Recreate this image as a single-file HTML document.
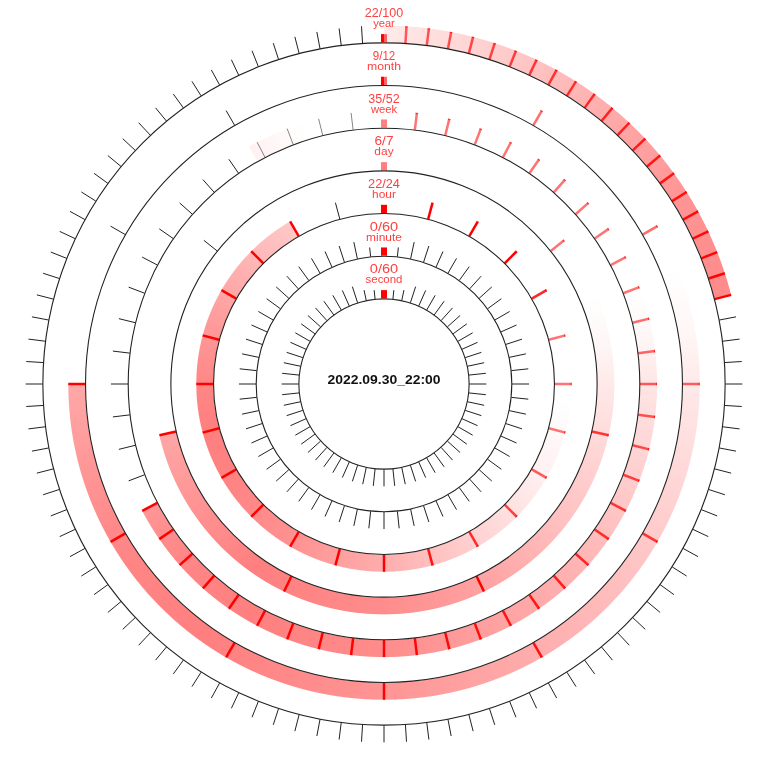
<!DOCTYPE html>
<html><head><meta charset="utf-8"><title>clock</title>
<style>html,body{margin:0;padding:0;background:#fff}#c{position:relative;width:768px;height:768px;overflow:hidden;background:#fff}.b{position:absolute;border-radius:50%}svg{position:absolute;left:0;top:0;display:block}text{font-family:"Liberation Sans",sans-serif}</style></head><body><div id="c">
<div class="b" style="left:24.60px;top:24.60px;width:718.80px;height:718.80px;background:conic-gradient(from 0deg at 50% 50%, rgba(255,0,0,0.080) 0.00deg, rgba(255,0,0,0.360) 45.00deg, rgba(255,0,0,0.425) 60.00deg, rgba(255,0,0,0.460) 75.60deg, rgba(255,0,0,0) 75.60deg, rgba(255,0,0,0) 360deg);-webkit-mask-image:radial-gradient(circle closest-side at 50% 50%, transparent 340.83px, #000 341.83px, #000 357.90px, transparent 358.90px);mask-image:radial-gradient(circle closest-side at 50% 50%, transparent 340.83px, #000 341.83px, #000 357.90px, transparent 358.90px)"></div>
<div class="b" style="left:67.27px;top:67.27px;width:633.47px;height:633.47px;background:conic-gradient(from 0deg at 50% 50%, rgba(255,0,0,0.000) 0.00deg, rgba(255,0,0,0.000) 68.00deg, rgba(255,0,0,0.030) 80.00deg, rgba(255,0,0,0.085) 90.00deg, rgba(255,0,0,0.270) 135.00deg, rgba(255,0,0,0.420) 180.00deg, rgba(255,0,0,0.500) 215.00deg, rgba(255,0,0,0.470) 240.00deg, rgba(255,0,0,0.340) 270.00deg, rgba(255,0,0,0) 270.00deg, rgba(255,0,0,0) 360deg);-webkit-mask-image:radial-gradient(circle closest-side at 50% 50%, transparent 298.17px, #000 299.17px, #000 315.23px, transparent 316.23px);mask-image:radial-gradient(circle closest-side at 50% 50%, transparent 298.17px, #000 299.17px, #000 315.23px, transparent 316.23px)"></div>
<div class="b" style="left:109.93px;top:109.93px;width:548.13px;height:548.13px;background:conic-gradient(from 0deg at 50% 50%, rgba(255,0,0,0.000) 0.00deg, rgba(255,0,0,0.000) 69.00deg, rgba(255,0,0,0.035) 80.00deg, rgba(255,0,0,0.100) 90.00deg, rgba(255,0,0,0.300) 135.00deg, rgba(255,0,0,0.450) 180.00deg, rgba(255,0,0,0.500) 210.00deg, rgba(255,0,0,0.470) 230.00deg, rgba(255,0,0,0.410) 242.31deg, rgba(255,0,0,0) 242.31deg, rgba(255,0,0,0.000) 330.40deg, rgba(255,0,0,0.055) 330.40deg, rgba(255,0,0,0.000) 343.00deg, rgba(255,0,0,0.000) 360.00deg);-webkit-mask-image:radial-gradient(circle closest-side at 50% 50%, transparent 255.50px, #000 256.50px, #000 272.57px, transparent 273.57px);mask-image:radial-gradient(circle closest-side at 50% 50%, transparent 255.50px, #000 256.50px, #000 272.57px, transparent 273.57px)"></div>
<div class="b" style="left:152.60px;top:152.60px;width:462.80px;height:462.80px;background:conic-gradient(from 0deg at 50% 50%, rgba(255,0,0,0.000) 0.00deg, rgba(255,0,0,0.000) 67.00deg, rgba(255,0,0,0.035) 80.00deg, rgba(255,0,0,0.085) 90.00deg, rgba(255,0,0,0.280) 135.00deg, rgba(255,0,0,0.350) 150.00deg, rgba(255,0,0,0.450) 180.00deg, rgba(255,0,0,0.500) 215.00deg, rgba(255,0,0,0.350) 257.14deg, rgba(255,0,0,0) 257.14deg, rgba(255,0,0,0) 360deg);-webkit-mask-image:radial-gradient(circle closest-side at 50% 50%, transparent 212.83px, #000 213.83px, #000 229.90px, transparent 230.90px);mask-image:radial-gradient(circle closest-side at 50% 50%, transparent 212.83px, #000 213.83px, #000 229.90px, transparent 230.90px)"></div>
<div class="b" style="left:195.27px;top:195.27px;width:377.47px;height:377.47px;background:conic-gradient(from 0deg at 50% 50%, rgba(255,0,0,0.000) 0.00deg, rgba(255,0,0,0.000) 95.00deg, rgba(255,0,0,0.060) 120.00deg, rgba(255,0,0,0.180) 150.00deg, rgba(255,0,0,0.320) 180.00deg, rgba(255,0,0,0.430) 210.00deg, rgba(255,0,0,0.490) 240.00deg, rgba(255,0,0,0.500) 255.00deg, rgba(255,0,0,0.470) 270.00deg, rgba(255,0,0,0.410) 285.00deg, rgba(255,0,0,0.350) 300.00deg, rgba(255,0,0,0.280) 315.00deg, rgba(255,0,0,0.220) 330.00deg, rgba(255,0,0,0) 330.00deg, rgba(255,0,0,0) 360deg);-webkit-mask-image:radial-gradient(circle closest-side at 50% 50%, transparent 170.17px, #000 171.17px, #000 187.23px, transparent 188.23px);mask-image:radial-gradient(circle closest-side at 50% 50%, transparent 170.17px, #000 171.17px, #000 187.23px, transparent 188.23px)"></div>
<svg width="768" height="768" viewBox="0 0 768 768">
<g id="year">
<line x1="405.43" y1="43.34" x2="406.50" y2="26.31" stroke="#f00" stroke-opacity="0.62" stroke-width="2.50"/>
<line x1="406.43" y1="27.50" x2="406.50" y2="26.31" stroke="#f00" stroke-opacity="0.6" stroke-width="2.50"/>
<line x1="426.78" y1="45.36" x2="428.92" y2="28.43" stroke="#f00" stroke-opacity="0.64" stroke-width="2.50"/>
<line x1="428.77" y1="29.62" x2="428.92" y2="28.43" stroke="#f00" stroke-opacity="0.6" stroke-width="2.50"/>
<line x1="447.96" y1="48.71" x2="451.16" y2="31.95" stroke="#f00" stroke-opacity="0.65" stroke-width="2.50"/>
<line x1="450.93" y1="33.13" x2="451.16" y2="31.95" stroke="#f00" stroke-opacity="0.6" stroke-width="2.50"/>
<line x1="468.89" y1="53.39" x2="473.13" y2="36.86" stroke="#f00" stroke-opacity="0.67" stroke-width="2.50"/>
<line x1="472.83" y1="38.02" x2="473.13" y2="36.86" stroke="#f00" stroke-opacity="0.6" stroke-width="2.50"/>
<line x1="489.48" y1="59.37" x2="494.75" y2="43.14" stroke="#f00" stroke-opacity="0.69" stroke-width="2.50"/>
<line x1="494.38" y1="44.28" x2="494.75" y2="43.14" stroke="#f00" stroke-opacity="0.6" stroke-width="2.50"/>
<line x1="509.65" y1="66.64" x2="515.94" y2="50.77" stroke="#f00" stroke-opacity="0.71" stroke-width="2.50"/>
<line x1="515.49" y1="51.88" x2="515.94" y2="50.77" stroke="#f00" stroke-opacity="0.6" stroke-width="2.50"/>
<line x1="529.33" y1="75.15" x2="536.60" y2="59.71" stroke="#f00" stroke-opacity="0.73" stroke-width="2.50"/>
<line x1="536.09" y1="60.80" x2="536.60" y2="59.71" stroke="#f00" stroke-opacity="0.6" stroke-width="2.50"/>
<line x1="548.44" y1="84.89" x2="556.66" y2="69.93" stroke="#f00" stroke-opacity="0.74" stroke-width="2.50"/>
<line x1="556.08" y1="70.98" x2="556.66" y2="69.93" stroke="#f00" stroke-opacity="0.6" stroke-width="2.50"/>
<line x1="566.90" y1="95.80" x2="576.04" y2="81.39" stroke="#f00" stroke-opacity="0.76" stroke-width="2.50"/>
<line x1="575.40" y1="82.41" x2="576.04" y2="81.39" stroke="#f00" stroke-opacity="0.6" stroke-width="2.50"/>
<line x1="584.63" y1="107.86" x2="594.66" y2="94.05" stroke="#f00" stroke-opacity="0.78" stroke-width="2.50"/>
<line x1="593.96" y1="95.02" x2="594.66" y2="94.05" stroke="#f00" stroke-opacity="0.6" stroke-width="2.50"/>
<line x1="601.57" y1="121.00" x2="612.45" y2="107.85" stroke="#f00" stroke-opacity="0.80" stroke-width="2.50"/>
<line x1="611.69" y1="108.77" x2="612.45" y2="107.85" stroke="#f00" stroke-opacity="0.6" stroke-width="2.50"/>
<line x1="617.66" y1="135.18" x2="629.34" y2="122.74" stroke="#f00" stroke-opacity="0.82" stroke-width="2.50"/>
<line x1="628.52" y1="123.61" x2="629.34" y2="122.74" stroke="#f00" stroke-opacity="0.6" stroke-width="2.50"/>
<line x1="632.82" y1="150.34" x2="645.26" y2="138.66" stroke="#f00" stroke-opacity="0.84" stroke-width="2.50"/>
<line x1="644.39" y1="139.48" x2="645.26" y2="138.66" stroke="#f00" stroke-opacity="0.6" stroke-width="2.50"/>
<line x1="647.00" y1="166.43" x2="660.15" y2="155.55" stroke="#f00" stroke-opacity="0.86" stroke-width="2.50"/>
<line x1="659.23" y1="156.31" x2="660.15" y2="155.55" stroke="#f00" stroke-opacity="0.6" stroke-width="2.50"/>
<line x1="660.14" y1="183.37" x2="673.95" y2="173.34" stroke="#f00" stroke-opacity="0.88" stroke-width="2.50"/>
<line x1="672.98" y1="174.04" x2="673.95" y2="173.34" stroke="#f00" stroke-opacity="0.6" stroke-width="2.50"/>
<line x1="672.20" y1="201.10" x2="686.61" y2="191.96" stroke="#f00" stroke-opacity="0.90" stroke-width="2.50"/>
<line x1="685.59" y1="192.60" x2="686.61" y2="191.96" stroke="#f00" stroke-opacity="0.6" stroke-width="2.50"/>
<line x1="683.11" y1="219.56" x2="698.07" y2="211.34" stroke="#f00" stroke-opacity="0.92" stroke-width="2.50"/>
<line x1="697.02" y1="211.92" x2="698.07" y2="211.34" stroke="#f00" stroke-opacity="0.6" stroke-width="2.50"/>
<line x1="692.85" y1="238.67" x2="708.29" y2="231.40" stroke="#f00" stroke-opacity="0.94" stroke-width="2.50"/>
<line x1="707.20" y1="231.91" x2="708.29" y2="231.40" stroke="#f00" stroke-opacity="0.6" stroke-width="2.50"/>
<line x1="701.36" y1="258.35" x2="717.23" y2="252.06" stroke="#f00" stroke-opacity="0.96" stroke-width="2.50"/>
<line x1="708.63" y1="278.52" x2="724.86" y2="273.25" stroke="#f00" stroke-opacity="0.98" stroke-width="2.50"/>
<line x1="714.61" y1="299.11" x2="731.14" y2="294.87" stroke="#f00" stroke-opacity="1.00" stroke-width="2.50"/>
<line x1="719.29" y1="320.04" x2="736.05" y2="316.84" stroke="#222" stroke-opacity="1" stroke-width="1.0"/>
<line x1="722.64" y1="341.22" x2="739.57" y2="339.08" stroke="#222" stroke-opacity="1" stroke-width="1.0"/>
<line x1="724.66" y1="362.57" x2="741.69" y2="361.50" stroke="#222" stroke-opacity="1" stroke-width="1.0"/>
<line x1="725.33" y1="384.00" x2="742.40" y2="384.00" stroke="#222" stroke-opacity="1" stroke-width="1.0"/>
<line x1="724.66" y1="405.43" x2="741.69" y2="406.50" stroke="#222" stroke-opacity="1" stroke-width="1.0"/>
<line x1="722.64" y1="426.78" x2="739.57" y2="428.92" stroke="#222" stroke-opacity="1" stroke-width="1.0"/>
<line x1="719.29" y1="447.96" x2="736.05" y2="451.16" stroke="#222" stroke-opacity="1" stroke-width="1.0"/>
<line x1="714.61" y1="468.89" x2="731.14" y2="473.13" stroke="#222" stroke-opacity="1" stroke-width="1.0"/>
<line x1="708.63" y1="489.48" x2="724.86" y2="494.75" stroke="#222" stroke-opacity="1" stroke-width="1.0"/>
<line x1="701.36" y1="509.65" x2="717.23" y2="515.94" stroke="#222" stroke-opacity="1" stroke-width="1.0"/>
<line x1="692.85" y1="529.33" x2="708.29" y2="536.60" stroke="#222" stroke-opacity="1" stroke-width="1.0"/>
<line x1="683.11" y1="548.44" x2="698.07" y2="556.66" stroke="#222" stroke-opacity="1" stroke-width="1.0"/>
<line x1="672.20" y1="566.90" x2="686.61" y2="576.04" stroke="#222" stroke-opacity="1" stroke-width="1.0"/>
<line x1="660.14" y1="584.63" x2="673.95" y2="594.66" stroke="#222" stroke-opacity="1" stroke-width="1.0"/>
<line x1="647.00" y1="601.57" x2="660.15" y2="612.45" stroke="#222" stroke-opacity="1" stroke-width="1.0"/>
<line x1="632.82" y1="617.66" x2="645.26" y2="629.34" stroke="#222" stroke-opacity="1" stroke-width="1.0"/>
<line x1="617.66" y1="632.82" x2="629.34" y2="645.26" stroke="#222" stroke-opacity="1" stroke-width="1.0"/>
<line x1="601.57" y1="647.00" x2="612.45" y2="660.15" stroke="#222" stroke-opacity="1" stroke-width="1.0"/>
<line x1="584.63" y1="660.14" x2="594.66" y2="673.95" stroke="#222" stroke-opacity="1" stroke-width="1.0"/>
<line x1="566.90" y1="672.20" x2="576.04" y2="686.61" stroke="#222" stroke-opacity="1" stroke-width="1.0"/>
<line x1="548.44" y1="683.11" x2="556.66" y2="698.07" stroke="#222" stroke-opacity="1" stroke-width="1.0"/>
<line x1="529.33" y1="692.85" x2="536.60" y2="708.29" stroke="#222" stroke-opacity="1" stroke-width="1.0"/>
<line x1="509.65" y1="701.36" x2="515.94" y2="717.23" stroke="#222" stroke-opacity="1" stroke-width="1.0"/>
<line x1="489.48" y1="708.63" x2="494.75" y2="724.86" stroke="#222" stroke-opacity="1" stroke-width="1.0"/>
<line x1="468.89" y1="714.61" x2="473.13" y2="731.14" stroke="#222" stroke-opacity="1" stroke-width="1.0"/>
<line x1="447.96" y1="719.29" x2="451.16" y2="736.05" stroke="#222" stroke-opacity="1" stroke-width="1.0"/>
<line x1="426.78" y1="722.64" x2="428.92" y2="739.57" stroke="#222" stroke-opacity="1" stroke-width="1.0"/>
<line x1="405.43" y1="724.66" x2="406.50" y2="741.69" stroke="#222" stroke-opacity="1" stroke-width="1.0"/>
<line x1="384.00" y1="725.33" x2="384.00" y2="742.40" stroke="#222" stroke-opacity="1" stroke-width="1.0"/>
<line x1="362.57" y1="724.66" x2="361.50" y2="741.69" stroke="#222" stroke-opacity="1" stroke-width="1.0"/>
<line x1="341.22" y1="722.64" x2="339.08" y2="739.57" stroke="#222" stroke-opacity="1" stroke-width="1.0"/>
<line x1="320.04" y1="719.29" x2="316.84" y2="736.05" stroke="#222" stroke-opacity="1" stroke-width="1.0"/>
<line x1="299.11" y1="714.61" x2="294.87" y2="731.14" stroke="#222" stroke-opacity="1" stroke-width="1.0"/>
<line x1="278.52" y1="708.63" x2="273.25" y2="724.86" stroke="#222" stroke-opacity="1" stroke-width="1.0"/>
<line x1="258.35" y1="701.36" x2="252.06" y2="717.23" stroke="#222" stroke-opacity="1" stroke-width="1.0"/>
<line x1="238.67" y1="692.85" x2="231.40" y2="708.29" stroke="#222" stroke-opacity="1" stroke-width="1.0"/>
<line x1="219.56" y1="683.11" x2="211.34" y2="698.07" stroke="#222" stroke-opacity="1" stroke-width="1.0"/>
<line x1="201.10" y1="672.20" x2="191.96" y2="686.61" stroke="#222" stroke-opacity="1" stroke-width="1.0"/>
<line x1="183.37" y1="660.14" x2="173.34" y2="673.95" stroke="#222" stroke-opacity="1" stroke-width="1.0"/>
<line x1="166.43" y1="647.00" x2="155.55" y2="660.15" stroke="#222" stroke-opacity="1" stroke-width="1.0"/>
<line x1="150.34" y1="632.82" x2="138.66" y2="645.26" stroke="#222" stroke-opacity="1" stroke-width="1.0"/>
<line x1="135.18" y1="617.66" x2="122.74" y2="629.34" stroke="#222" stroke-opacity="1" stroke-width="1.0"/>
<line x1="121.00" y1="601.57" x2="107.85" y2="612.45" stroke="#222" stroke-opacity="1" stroke-width="1.0"/>
<line x1="107.86" y1="584.63" x2="94.05" y2="594.66" stroke="#222" stroke-opacity="1" stroke-width="1.0"/>
<line x1="95.80" y1="566.90" x2="81.39" y2="576.04" stroke="#222" stroke-opacity="1" stroke-width="1.0"/>
<line x1="84.89" y1="548.44" x2="69.93" y2="556.66" stroke="#222" stroke-opacity="1" stroke-width="1.0"/>
<line x1="75.15" y1="529.33" x2="59.71" y2="536.60" stroke="#222" stroke-opacity="1" stroke-width="1.0"/>
<line x1="66.64" y1="509.65" x2="50.77" y2="515.94" stroke="#222" stroke-opacity="1" stroke-width="1.0"/>
<line x1="59.37" y1="489.48" x2="43.14" y2="494.75" stroke="#222" stroke-opacity="1" stroke-width="1.0"/>
<line x1="53.39" y1="468.89" x2="36.86" y2="473.13" stroke="#222" stroke-opacity="1" stroke-width="1.0"/>
<line x1="48.71" y1="447.96" x2="31.95" y2="451.16" stroke="#222" stroke-opacity="1" stroke-width="1.0"/>
<line x1="45.36" y1="426.78" x2="28.43" y2="428.92" stroke="#222" stroke-opacity="1" stroke-width="1.0"/>
<line x1="43.34" y1="405.43" x2="26.31" y2="406.50" stroke="#222" stroke-opacity="1" stroke-width="1.0"/>
<line x1="42.67" y1="384.00" x2="25.60" y2="384.00" stroke="#222" stroke-opacity="1" stroke-width="1.0"/>
<line x1="43.34" y1="362.57" x2="26.31" y2="361.50" stroke="#222" stroke-opacity="1" stroke-width="1.0"/>
<line x1="45.36" y1="341.22" x2="28.43" y2="339.08" stroke="#222" stroke-opacity="1" stroke-width="1.0"/>
<line x1="48.71" y1="320.04" x2="31.95" y2="316.84" stroke="#222" stroke-opacity="1" stroke-width="1.0"/>
<line x1="53.39" y1="299.11" x2="36.86" y2="294.87" stroke="#222" stroke-opacity="1" stroke-width="1.0"/>
<line x1="59.37" y1="278.52" x2="43.14" y2="273.25" stroke="#222" stroke-opacity="1" stroke-width="1.0"/>
<line x1="66.64" y1="258.35" x2="50.77" y2="252.06" stroke="#222" stroke-opacity="1" stroke-width="1.0"/>
<line x1="75.15" y1="238.67" x2="59.71" y2="231.40" stroke="#222" stroke-opacity="1" stroke-width="1.0"/>
<line x1="84.89" y1="219.56" x2="69.93" y2="211.34" stroke="#222" stroke-opacity="1" stroke-width="1.0"/>
<line x1="95.80" y1="201.10" x2="81.39" y2="191.96" stroke="#222" stroke-opacity="1" stroke-width="1.0"/>
<line x1="107.86" y1="183.37" x2="94.05" y2="173.34" stroke="#222" stroke-opacity="1" stroke-width="1.0"/>
<line x1="121.00" y1="166.43" x2="107.85" y2="155.55" stroke="#222" stroke-opacity="1" stroke-width="1.0"/>
<line x1="135.18" y1="150.34" x2="122.74" y2="138.66" stroke="#222" stroke-opacity="1" stroke-width="1.0"/>
<line x1="150.34" y1="135.18" x2="138.66" y2="122.74" stroke="#222" stroke-opacity="1" stroke-width="1.0"/>
<line x1="166.43" y1="121.00" x2="155.55" y2="107.85" stroke="#222" stroke-opacity="1" stroke-width="1.0"/>
<line x1="183.37" y1="107.86" x2="173.34" y2="94.05" stroke="#222" stroke-opacity="1" stroke-width="1.0"/>
<line x1="201.10" y1="95.80" x2="191.96" y2="81.39" stroke="#222" stroke-opacity="1" stroke-width="1.0"/>
<line x1="219.56" y1="84.89" x2="211.34" y2="69.93" stroke="#222" stroke-opacity="1" stroke-width="1.0"/>
<line x1="238.67" y1="75.15" x2="231.40" y2="59.71" stroke="#222" stroke-opacity="1" stroke-width="1.0"/>
<line x1="258.35" y1="66.64" x2="252.06" y2="50.77" stroke="#222" stroke-opacity="1" stroke-width="1.0"/>
<line x1="278.52" y1="59.37" x2="273.25" y2="43.14" stroke="#222" stroke-opacity="1" stroke-width="1.0"/>
<line x1="299.11" y1="53.39" x2="294.87" y2="36.86" stroke="#222" stroke-opacity="1" stroke-width="1.0"/>
<line x1="320.04" y1="48.71" x2="316.84" y2="31.95" stroke="#222" stroke-opacity="1" stroke-width="1.0"/>
<line x1="341.22" y1="45.36" x2="339.08" y2="28.43" stroke="#222" stroke-opacity="1" stroke-width="1.0"/>
<line x1="362.57" y1="43.34" x2="361.50" y2="26.31" stroke="#222" stroke-opacity="1" stroke-width="1.0"/>
<circle cx="384.0" cy="384.0" r="341.13" fill="none" stroke="#222" stroke-width="1.1"/>
<rect x="381" y="34.13" width="6" height="8.23" fill="#f00" fill-opacity="0.6"/>
<rect x="381" y="34.13" width="3" height="8.23" fill="#f00"/>
<text x="364.85" y="17.27" font-size="12.8" textLength="38.3" lengthAdjust="spacingAndGlyphs" fill="#ff4040">22/100</text>
<text x="373.15" y="27.47" font-size="11.2" textLength="21.7" lengthAdjust="spacingAndGlyphs" fill="#ff4040">year</text>
</g>
<g id="month">
<line x1="533.33" y1="125.35" x2="541.87" y2="110.57" stroke="#f00" stroke-opacity="0.57" stroke-width="2.50"/>
<line x1="541.27" y1="111.61" x2="541.87" y2="110.57" stroke="#f00" stroke-opacity="0.6" stroke-width="2.50"/>
<line x1="642.65" y1="234.67" x2="657.43" y2="226.13" stroke="#f00" stroke-opacity="0.58" stroke-width="2.50"/>
<line x1="656.39" y1="226.73" x2="657.43" y2="226.13" stroke="#f00" stroke-opacity="0.6" stroke-width="2.50"/>
<line x1="682.67" y1="384.00" x2="699.73" y2="384.00" stroke="#f00" stroke-opacity="0.60" stroke-width="2.50"/>
<line x1="698.53" y1="384.00" x2="699.73" y2="384.00" stroke="#f00" stroke-opacity="0.6" stroke-width="2.50"/>
<line x1="642.65" y1="533.33" x2="657.43" y2="541.87" stroke="#f00" stroke-opacity="0.75" stroke-width="2.50"/>
<line x1="656.39" y1="541.27" x2="657.43" y2="541.87" stroke="#f00" stroke-opacity="0.6" stroke-width="2.50"/>
<line x1="533.33" y1="642.65" x2="541.87" y2="657.43" stroke="#f00" stroke-opacity="0.90" stroke-width="2.50"/>
<line x1="541.27" y1="656.39" x2="541.87" y2="657.43" stroke="#f00" stroke-opacity="0.6" stroke-width="2.50"/>
<line x1="384.00" y1="682.67" x2="384.00" y2="699.73" stroke="#f00" stroke-opacity="1.00" stroke-width="2.50"/>
<line x1="234.67" y1="642.65" x2="226.13" y2="657.43" stroke="#f00" stroke-opacity="1.00" stroke-width="2.50"/>
<line x1="125.35" y1="533.33" x2="110.57" y2="541.87" stroke="#f00" stroke-opacity="1.00" stroke-width="2.50"/>
<line x1="85.33" y1="384.00" x2="68.27" y2="384.00" stroke="#f00" stroke-opacity="1.00" stroke-width="2.50"/>
<line x1="125.35" y1="234.67" x2="110.57" y2="226.13" stroke="#222" stroke-opacity="1" stroke-width="1.0"/>
<line x1="234.67" y1="125.35" x2="226.13" y2="110.57" stroke="#222" stroke-opacity="1" stroke-width="1.0"/>
<circle cx="384.0" cy="384.0" r="298.47" fill="none" stroke="#222" stroke-width="1.1"/>
<rect x="381" y="76.80" width="6" height="8.23" fill="#f00" fill-opacity="0.6"/>
<rect x="381" y="76.80" width="3" height="8.23" fill="#f00"/>
<text x="372.75" y="59.93" font-size="12.8" textLength="22.5" lengthAdjust="spacingAndGlyphs" fill="#ff4040">9/12</text>
<text x="367.00" y="70.13" font-size="11.2" textLength="34" lengthAdjust="spacingAndGlyphs" fill="#ff4040">month</text>
</g>
<g id="week">
<line x1="414.86" y1="129.87" x2="416.91" y2="112.92" stroke="#f00" stroke-opacity="0.55" stroke-width="2.50"/>
<line x1="416.77" y1="114.12" x2="416.91" y2="112.92" stroke="#f00" stroke-opacity="0.6" stroke-width="2.50"/>
<line x1="445.26" y1="135.44" x2="449.35" y2="118.87" stroke="#f00" stroke-opacity="0.55" stroke-width="2.50"/>
<line x1="449.06" y1="120.03" x2="449.35" y2="118.87" stroke="#f00" stroke-opacity="0.6" stroke-width="2.50"/>
<line x1="474.78" y1="144.64" x2="480.83" y2="128.68" stroke="#f00" stroke-opacity="0.55" stroke-width="2.50"/>
<line x1="480.41" y1="129.80" x2="480.83" y2="128.68" stroke="#f00" stroke-opacity="0.6" stroke-width="2.50"/>
<line x1="502.97" y1="157.32" x2="510.90" y2="142.21" stroke="#f00" stroke-opacity="0.55" stroke-width="2.50"/>
<line x1="510.34" y1="143.27" x2="510.90" y2="142.21" stroke="#f00" stroke-opacity="0.6" stroke-width="2.50"/>
<line x1="529.42" y1="173.32" x2="539.12" y2="159.27" stroke="#f00" stroke-opacity="0.55" stroke-width="2.50"/>
<line x1="538.44" y1="160.26" x2="539.12" y2="159.27" stroke="#f00" stroke-opacity="0.6" stroke-width="2.50"/>
<line x1="553.76" y1="192.38" x2="565.08" y2="179.61" stroke="#f00" stroke-opacity="0.55" stroke-width="2.50"/>
<line x1="564.28" y1="180.50" x2="565.08" y2="179.61" stroke="#f00" stroke-opacity="0.6" stroke-width="2.50"/>
<line x1="575.62" y1="214.24" x2="588.39" y2="202.92" stroke="#f00" stroke-opacity="0.55" stroke-width="2.50"/>
<line x1="587.50" y1="203.72" x2="588.39" y2="202.92" stroke="#f00" stroke-opacity="0.6" stroke-width="2.50"/>
<line x1="594.68" y1="238.58" x2="608.73" y2="228.88" stroke="#f00" stroke-opacity="0.55" stroke-width="2.50"/>
<line x1="607.74" y1="229.56" x2="608.73" y2="228.88" stroke="#f00" stroke-opacity="0.6" stroke-width="2.50"/>
<line x1="610.68" y1="265.03" x2="625.79" y2="257.10" stroke="#f00" stroke-opacity="0.55" stroke-width="2.50"/>
<line x1="624.73" y1="257.66" x2="625.79" y2="257.10" stroke="#f00" stroke-opacity="0.6" stroke-width="2.50"/>
<line x1="623.36" y1="293.22" x2="639.32" y2="287.17" stroke="#f00" stroke-opacity="0.55" stroke-width="2.50"/>
<line x1="638.20" y1="287.59" x2="639.32" y2="287.17" stroke="#f00" stroke-opacity="0.6" stroke-width="2.50"/>
<line x1="632.56" y1="322.74" x2="649.13" y2="318.65" stroke="#f00" stroke-opacity="0.57" stroke-width="2.50"/>
<line x1="647.97" y1="318.94" x2="649.13" y2="318.65" stroke="#f00" stroke-opacity="0.6" stroke-width="2.50"/>
<line x1="638.13" y1="353.14" x2="655.08" y2="351.09" stroke="#f00" stroke-opacity="0.59" stroke-width="2.50"/>
<line x1="653.88" y1="351.23" x2="655.08" y2="351.09" stroke="#f00" stroke-opacity="0.6" stroke-width="2.50"/>
<line x1="640.00" y1="384.00" x2="657.07" y2="384.00" stroke="#f00" stroke-opacity="0.62" stroke-width="2.50"/>
<line x1="655.87" y1="384.00" x2="657.07" y2="384.00" stroke="#f00" stroke-opacity="0.6" stroke-width="2.50"/>
<line x1="638.13" y1="414.86" x2="655.08" y2="416.91" stroke="#f00" stroke-opacity="0.64" stroke-width="2.50"/>
<line x1="653.88" y1="416.77" x2="655.08" y2="416.91" stroke="#f00" stroke-opacity="0.6" stroke-width="2.50"/>
<line x1="632.56" y1="445.26" x2="649.13" y2="449.35" stroke="#f00" stroke-opacity="0.67" stroke-width="2.50"/>
<line x1="647.97" y1="449.06" x2="649.13" y2="449.35" stroke="#f00" stroke-opacity="0.6" stroke-width="2.50"/>
<line x1="623.36" y1="474.78" x2="639.32" y2="480.83" stroke="#f00" stroke-opacity="0.70" stroke-width="2.50"/>
<line x1="638.20" y1="480.41" x2="639.32" y2="480.83" stroke="#f00" stroke-opacity="0.6" stroke-width="2.50"/>
<line x1="610.68" y1="502.97" x2="625.79" y2="510.90" stroke="#f00" stroke-opacity="0.74" stroke-width="2.50"/>
<line x1="624.73" y1="510.34" x2="625.79" y2="510.90" stroke="#f00" stroke-opacity="0.6" stroke-width="2.50"/>
<line x1="594.68" y1="529.42" x2="608.73" y2="539.12" stroke="#f00" stroke-opacity="0.77" stroke-width="2.50"/>
<line x1="607.74" y1="538.44" x2="608.73" y2="539.12" stroke="#f00" stroke-opacity="0.6" stroke-width="2.50"/>
<line x1="575.62" y1="553.76" x2="588.39" y2="565.08" stroke="#f00" stroke-opacity="0.81" stroke-width="2.50"/>
<line x1="587.50" y1="564.28" x2="588.39" y2="565.08" stroke="#f00" stroke-opacity="0.6" stroke-width="2.50"/>
<line x1="553.76" y1="575.62" x2="565.08" y2="588.39" stroke="#f00" stroke-opacity="0.83" stroke-width="2.50"/>
<line x1="564.28" y1="587.50" x2="565.08" y2="588.39" stroke="#f00" stroke-opacity="0.6" stroke-width="2.50"/>
<line x1="529.42" y1="594.68" x2="539.12" y2="608.73" stroke="#f00" stroke-opacity="0.86" stroke-width="2.50"/>
<line x1="538.44" y1="607.74" x2="539.12" y2="608.73" stroke="#f00" stroke-opacity="0.6" stroke-width="2.50"/>
<line x1="502.97" y1="610.68" x2="510.90" y2="625.79" stroke="#f00" stroke-opacity="0.89" stroke-width="2.50"/>
<line x1="510.34" y1="624.73" x2="510.90" y2="625.79" stroke="#f00" stroke-opacity="0.6" stroke-width="2.50"/>
<line x1="474.78" y1="623.36" x2="480.83" y2="639.32" stroke="#f00" stroke-opacity="0.92" stroke-width="2.50"/>
<line x1="480.41" y1="638.20" x2="480.83" y2="639.32" stroke="#f00" stroke-opacity="0.6" stroke-width="2.50"/>
<line x1="445.26" y1="632.56" x2="449.35" y2="649.13" stroke="#f00" stroke-opacity="0.94" stroke-width="2.50"/>
<line x1="449.06" y1="647.97" x2="449.35" y2="649.13" stroke="#f00" stroke-opacity="0.6" stroke-width="2.50"/>
<line x1="414.86" y1="638.13" x2="416.91" y2="655.08" stroke="#f00" stroke-opacity="0.96" stroke-width="2.50"/>
<line x1="384.00" y1="640.00" x2="384.00" y2="657.07" stroke="#f00" stroke-opacity="0.98" stroke-width="2.50"/>
<line x1="353.14" y1="638.13" x2="351.09" y2="655.08" stroke="#f00" stroke-opacity="1.00" stroke-width="2.50"/>
<line x1="322.74" y1="632.56" x2="318.65" y2="649.13" stroke="#f00" stroke-opacity="1.00" stroke-width="2.50"/>
<line x1="293.22" y1="623.36" x2="287.17" y2="639.32" stroke="#f00" stroke-opacity="1.00" stroke-width="2.50"/>
<line x1="265.03" y1="610.68" x2="257.10" y2="625.79" stroke="#f00" stroke-opacity="1.00" stroke-width="2.50"/>
<line x1="238.58" y1="594.68" x2="228.88" y2="608.73" stroke="#f00" stroke-opacity="1.00" stroke-width="2.50"/>
<line x1="214.24" y1="575.62" x2="202.92" y2="588.39" stroke="#f00" stroke-opacity="1.00" stroke-width="2.50"/>
<line x1="192.38" y1="553.76" x2="179.61" y2="565.08" stroke="#f00" stroke-opacity="1.00" stroke-width="2.50"/>
<line x1="173.32" y1="529.42" x2="159.27" y2="539.12" stroke="#f00" stroke-opacity="1.00" stroke-width="2.50"/>
<line x1="157.32" y1="502.97" x2="142.21" y2="510.90" stroke="#f00" stroke-opacity="1.00" stroke-width="2.50"/>
<line x1="144.64" y1="474.78" x2="128.68" y2="480.83" stroke="#222" stroke-opacity="1" stroke-width="1.0"/>
<line x1="135.44" y1="445.26" x2="118.87" y2="449.35" stroke="#222" stroke-opacity="1" stroke-width="1.0"/>
<line x1="129.87" y1="414.86" x2="112.92" y2="416.91" stroke="#222" stroke-opacity="1" stroke-width="1.0"/>
<line x1="128.00" y1="384.00" x2="110.93" y2="384.00" stroke="#222" stroke-opacity="1" stroke-width="1.0"/>
<line x1="129.87" y1="353.14" x2="112.92" y2="351.09" stroke="#222" stroke-opacity="1" stroke-width="1.0"/>
<line x1="135.44" y1="322.74" x2="118.87" y2="318.65" stroke="#222" stroke-opacity="1" stroke-width="1.0"/>
<line x1="144.64" y1="293.22" x2="128.68" y2="287.17" stroke="#222" stroke-opacity="1" stroke-width="1.0"/>
<line x1="157.32" y1="265.03" x2="142.21" y2="257.10" stroke="#222" stroke-opacity="1" stroke-width="1.0"/>
<line x1="173.32" y1="238.58" x2="159.27" y2="228.88" stroke="#222" stroke-opacity="1" stroke-width="1.0"/>
<line x1="192.38" y1="214.24" x2="179.61" y2="202.92" stroke="#222" stroke-opacity="1" stroke-width="1.0"/>
<line x1="214.24" y1="192.38" x2="202.92" y2="179.61" stroke="#222" stroke-opacity="1" stroke-width="1.0"/>
<line x1="238.58" y1="173.32" x2="228.88" y2="159.27" stroke="#222" stroke-opacity="1" stroke-width="1.0"/>
<line x1="265.03" y1="157.32" x2="257.10" y2="142.21" stroke="#222" stroke-opacity="0.55" stroke-width="1"/>
<line x1="293.22" y1="144.64" x2="287.17" y2="128.68" stroke="#222" stroke-opacity="0.55" stroke-width="1"/>
<line x1="322.74" y1="135.44" x2="318.65" y2="118.87" stroke="#222" stroke-opacity="0.55" stroke-width="1"/>
<line x1="353.14" y1="129.87" x2="351.09" y2="112.92" stroke="#222" stroke-opacity="0.55" stroke-width="1"/>
<circle cx="384.0" cy="384.0" r="255.80" fill="none" stroke="#222" stroke-width="1.1"/>
<rect x="381" y="119.47" width="6" height="8.23" fill="#f00" fill-opacity="0.5"/>
<text x="368.35" y="102.60" font-size="12.8" textLength="31.3" lengthAdjust="spacingAndGlyphs" fill="#ff4040">35/52</text>
<text x="370.90" y="112.80" font-size="11.2" textLength="26.2" lengthAdjust="spacingAndGlyphs" fill="#ff4040">week</text>
</g>
<g id="day">
<line x1="550.79" y1="250.99" x2="564.13" y2="240.35" stroke="#f00" stroke-opacity="0.55" stroke-width="2.50"/>
<line x1="563.20" y1="241.10" x2="564.13" y2="240.35" stroke="#f00" stroke-opacity="0.6" stroke-width="2.50"/>
<line x1="591.98" y1="431.47" x2="608.62" y2="435.27" stroke="#f00" stroke-opacity="0.76" stroke-width="2.50"/>
<line x1="607.45" y1="435.00" x2="608.62" y2="435.27" stroke="#f00" stroke-opacity="0.6" stroke-width="2.50"/>
<line x1="476.56" y1="576.21" x2="483.97" y2="591.58" stroke="#f00" stroke-opacity="1.00" stroke-width="2.50"/>
<line x1="291.44" y1="576.21" x2="284.03" y2="591.58" stroke="#f00" stroke-opacity="1.00" stroke-width="2.50"/>
<line x1="176.02" y1="431.47" x2="159.38" y2="435.27" stroke="#f00" stroke-opacity="1.00" stroke-width="2.50"/>
<line x1="217.21" y1="250.99" x2="203.87" y2="240.35" stroke="#222" stroke-opacity="1" stroke-width="1.0"/>
<circle cx="384.0" cy="384.0" r="213.13" fill="none" stroke="#222" stroke-width="1.1"/>
<rect x="381" y="162.13" width="6" height="8.23" fill="#f00" fill-opacity="0.5"/>
<text x="374.50" y="145.27" font-size="12.8" textLength="19" lengthAdjust="spacingAndGlyphs" fill="#ff4040">6/7</text>
<text x="374.35" y="155.47" font-size="11.2" textLength="19.3" lengthAdjust="spacingAndGlyphs" fill="#ff4040">day</text>
</g>
<g id="hour">
<line x1="428.17" y1="219.15" x2="432.59" y2="202.66" stroke="#f00" stroke-opacity="1.00" stroke-width="2.50"/>
<line x1="469.33" y1="236.20" x2="477.87" y2="221.42" stroke="#f00" stroke-opacity="1.00" stroke-width="2.50"/>
<line x1="504.68" y1="263.32" x2="516.75" y2="251.25" stroke="#f00" stroke-opacity="1.00" stroke-width="2.50"/>
<line x1="531.80" y1="298.67" x2="546.58" y2="290.13" stroke="#f00" stroke-opacity="0.85" stroke-width="2.50"/>
<line x1="545.54" y1="290.73" x2="546.58" y2="290.13" stroke="#f00" stroke-opacity="0.6" stroke-width="2.50"/>
<line x1="548.85" y1="339.83" x2="565.34" y2="335.41" stroke="#f00" stroke-opacity="0.55" stroke-width="2.50"/>
<line x1="564.18" y1="335.72" x2="565.34" y2="335.41" stroke="#f00" stroke-opacity="0.6" stroke-width="2.50"/>
<line x1="554.67" y1="384.00" x2="571.73" y2="384.00" stroke="#f00" stroke-opacity="0.55" stroke-width="2.50"/>
<line x1="570.53" y1="384.00" x2="571.73" y2="384.00" stroke="#f00" stroke-opacity="0.6" stroke-width="2.50"/>
<line x1="548.85" y1="428.17" x2="565.34" y2="432.59" stroke="#f00" stroke-opacity="0.55" stroke-width="2.50"/>
<line x1="564.18" y1="432.28" x2="565.34" y2="432.59" stroke="#f00" stroke-opacity="0.6" stroke-width="2.50"/>
<line x1="531.80" y1="469.33" x2="546.58" y2="477.87" stroke="#f00" stroke-opacity="0.63" stroke-width="2.50"/>
<line x1="545.54" y1="477.27" x2="546.58" y2="477.87" stroke="#f00" stroke-opacity="0.6" stroke-width="2.50"/>
<line x1="504.68" y1="504.68" x2="516.75" y2="516.75" stroke="#f00" stroke-opacity="0.72" stroke-width="2.50"/>
<line x1="515.90" y1="515.90" x2="516.75" y2="516.75" stroke="#f00" stroke-opacity="0.6" stroke-width="2.50"/>
<line x1="469.33" y1="531.80" x2="477.87" y2="546.58" stroke="#f00" stroke-opacity="0.80" stroke-width="2.50"/>
<line x1="477.27" y1="545.54" x2="477.87" y2="546.58" stroke="#f00" stroke-opacity="0.6" stroke-width="2.50"/>
<line x1="428.17" y1="548.85" x2="432.59" y2="565.34" stroke="#f00" stroke-opacity="0.90" stroke-width="2.50"/>
<line x1="432.28" y1="564.18" x2="432.59" y2="565.34" stroke="#f00" stroke-opacity="0.6" stroke-width="2.50"/>
<line x1="384.00" y1="554.67" x2="384.00" y2="571.73" stroke="#f00" stroke-opacity="1.00" stroke-width="2.50"/>
<line x1="339.83" y1="548.85" x2="335.41" y2="565.34" stroke="#f00" stroke-opacity="1.00" stroke-width="2.50"/>
<line x1="298.67" y1="531.80" x2="290.13" y2="546.58" stroke="#f00" stroke-opacity="1.00" stroke-width="2.50"/>
<line x1="263.32" y1="504.68" x2="251.25" y2="516.75" stroke="#f00" stroke-opacity="1.00" stroke-width="2.50"/>
<line x1="236.20" y1="469.33" x2="221.42" y2="477.87" stroke="#f00" stroke-opacity="1.00" stroke-width="2.50"/>
<line x1="219.15" y1="428.17" x2="202.66" y2="432.59" stroke="#f00" stroke-opacity="1.00" stroke-width="2.50"/>
<line x1="213.33" y1="384.00" x2="196.27" y2="384.00" stroke="#f00" stroke-opacity="1.00" stroke-width="2.50"/>
<line x1="219.15" y1="339.83" x2="202.66" y2="335.41" stroke="#f00" stroke-opacity="1.00" stroke-width="2.50"/>
<line x1="236.20" y1="298.67" x2="221.42" y2="290.13" stroke="#f00" stroke-opacity="1.00" stroke-width="2.50"/>
<line x1="263.32" y1="263.32" x2="251.25" y2="251.25" stroke="#f00" stroke-opacity="1.00" stroke-width="2.50"/>
<line x1="298.67" y1="236.20" x2="290.13" y2="221.42" stroke="#f00" stroke-opacity="1.00" stroke-width="2.50"/>
<line x1="339.83" y1="219.15" x2="335.41" y2="202.66" stroke="#222" stroke-opacity="1" stroke-width="1.0"/>
<circle cx="384.0" cy="384.0" r="170.47" fill="none" stroke="#222" stroke-width="1.1"/>
<rect x="381" y="204.80" width="6" height="8.23" fill="#f00"/>
<text x="368.05" y="187.93" font-size="12.8" textLength="31.9" lengthAdjust="spacingAndGlyphs" fill="#ff4040">22/24</text>
<text x="372.10" y="198.13" font-size="11.2" textLength="23.8" lengthAdjust="spacingAndGlyphs" fill="#ff4040">hour</text>
</g>
<g id="minute">
<line x1="397.38" y1="256.70" x2="398.35" y2="247.47" stroke="#222" stroke-opacity="1" stroke-width="1.0"/>
<line x1="410.61" y1="258.80" x2="414.16" y2="242.10" stroke="#222" stroke-opacity="1" stroke-width="1.0"/>
<line x1="423.55" y1="262.26" x2="428.83" y2="246.03" stroke="#222" stroke-opacity="1" stroke-width="1.0"/>
<line x1="436.06" y1="267.07" x2="443.00" y2="251.48" stroke="#222" stroke-opacity="1" stroke-width="1.0"/>
<line x1="448.00" y1="273.15" x2="456.53" y2="258.37" stroke="#222" stroke-opacity="1" stroke-width="1.0"/>
<line x1="459.24" y1="280.45" x2="469.27" y2="266.64" stroke="#222" stroke-opacity="1" stroke-width="1.0"/>
<line x1="469.65" y1="288.88" x2="481.07" y2="276.19" stroke="#222" stroke-opacity="1" stroke-width="1.0"/>
<line x1="479.12" y1="298.35" x2="491.81" y2="286.93" stroke="#222" stroke-opacity="1" stroke-width="1.0"/>
<line x1="487.55" y1="308.76" x2="501.36" y2="298.73" stroke="#222" stroke-opacity="1" stroke-width="1.0"/>
<line x1="494.85" y1="320.00" x2="509.63" y2="311.47" stroke="#222" stroke-opacity="1" stroke-width="1.0"/>
<line x1="500.93" y1="331.94" x2="516.52" y2="325.00" stroke="#222" stroke-opacity="1" stroke-width="1.0"/>
<line x1="505.74" y1="344.45" x2="521.97" y2="339.17" stroke="#222" stroke-opacity="1" stroke-width="1.0"/>
<line x1="509.20" y1="357.39" x2="525.90" y2="353.84" stroke="#222" stroke-opacity="1" stroke-width="1.0"/>
<line x1="511.30" y1="370.62" x2="528.27" y2="368.84" stroke="#222" stroke-opacity="1" stroke-width="1.0"/>
<line x1="512.00" y1="384.00" x2="529.07" y2="384.00" stroke="#222" stroke-opacity="1" stroke-width="1.0"/>
<line x1="511.30" y1="397.38" x2="528.27" y2="399.16" stroke="#222" stroke-opacity="1" stroke-width="1.0"/>
<line x1="509.20" y1="410.61" x2="525.90" y2="414.16" stroke="#222" stroke-opacity="1" stroke-width="1.0"/>
<line x1="505.74" y1="423.55" x2="521.97" y2="428.83" stroke="#222" stroke-opacity="1" stroke-width="1.0"/>
<line x1="500.93" y1="436.06" x2="516.52" y2="443.00" stroke="#222" stroke-opacity="1" stroke-width="1.0"/>
<line x1="494.85" y1="448.00" x2="509.63" y2="456.53" stroke="#222" stroke-opacity="1" stroke-width="1.0"/>
<line x1="487.55" y1="459.24" x2="501.36" y2="469.27" stroke="#222" stroke-opacity="1" stroke-width="1.0"/>
<line x1="479.12" y1="469.65" x2="491.81" y2="481.07" stroke="#222" stroke-opacity="1" stroke-width="1.0"/>
<line x1="469.65" y1="479.12" x2="481.07" y2="491.81" stroke="#222" stroke-opacity="1" stroke-width="1.0"/>
<line x1="459.24" y1="487.55" x2="469.27" y2="501.36" stroke="#222" stroke-opacity="1" stroke-width="1.0"/>
<line x1="448.00" y1="494.85" x2="456.53" y2="509.63" stroke="#222" stroke-opacity="1" stroke-width="1.0"/>
<line x1="436.06" y1="500.93" x2="443.00" y2="516.52" stroke="#222" stroke-opacity="1" stroke-width="1.0"/>
<line x1="423.55" y1="505.74" x2="428.83" y2="521.97" stroke="#222" stroke-opacity="1" stroke-width="1.0"/>
<line x1="410.61" y1="509.20" x2="414.16" y2="525.90" stroke="#222" stroke-opacity="1" stroke-width="1.0"/>
<line x1="397.38" y1="511.30" x2="399.16" y2="528.27" stroke="#222" stroke-opacity="1" stroke-width="1.0"/>
<line x1="384.00" y1="512.00" x2="384.00" y2="529.07" stroke="#222" stroke-opacity="1" stroke-width="1.0"/>
<line x1="370.62" y1="511.30" x2="368.84" y2="528.27" stroke="#222" stroke-opacity="1" stroke-width="1.0"/>
<line x1="357.39" y1="509.20" x2="353.84" y2="525.90" stroke="#222" stroke-opacity="1" stroke-width="1.0"/>
<line x1="344.45" y1="505.74" x2="339.17" y2="521.97" stroke="#222" stroke-opacity="1" stroke-width="1.0"/>
<line x1="331.94" y1="500.93" x2="325.00" y2="516.52" stroke="#222" stroke-opacity="1" stroke-width="1.0"/>
<line x1="320.00" y1="494.85" x2="311.47" y2="509.63" stroke="#222" stroke-opacity="1" stroke-width="1.0"/>
<line x1="308.76" y1="487.55" x2="298.73" y2="501.36" stroke="#222" stroke-opacity="1" stroke-width="1.0"/>
<line x1="298.35" y1="479.12" x2="286.93" y2="491.81" stroke="#222" stroke-opacity="1" stroke-width="1.0"/>
<line x1="288.88" y1="469.65" x2="276.19" y2="481.07" stroke="#222" stroke-opacity="1" stroke-width="1.0"/>
<line x1="280.45" y1="459.24" x2="266.64" y2="469.27" stroke="#222" stroke-opacity="1" stroke-width="1.0"/>
<line x1="273.15" y1="448.00" x2="258.37" y2="456.53" stroke="#222" stroke-opacity="1" stroke-width="1.0"/>
<line x1="267.07" y1="436.06" x2="251.48" y2="443.00" stroke="#222" stroke-opacity="1" stroke-width="1.0"/>
<line x1="262.26" y1="423.55" x2="246.03" y2="428.83" stroke="#222" stroke-opacity="1" stroke-width="1.0"/>
<line x1="258.80" y1="410.61" x2="242.10" y2="414.16" stroke="#222" stroke-opacity="1" stroke-width="1.0"/>
<line x1="256.70" y1="397.38" x2="239.73" y2="399.16" stroke="#222" stroke-opacity="1" stroke-width="1.0"/>
<line x1="256.00" y1="384.00" x2="238.93" y2="384.00" stroke="#222" stroke-opacity="1" stroke-width="1.0"/>
<line x1="256.70" y1="370.62" x2="239.73" y2="368.84" stroke="#222" stroke-opacity="1" stroke-width="1.0"/>
<line x1="258.80" y1="357.39" x2="242.10" y2="353.84" stroke="#222" stroke-opacity="1" stroke-width="1.0"/>
<line x1="262.26" y1="344.45" x2="246.03" y2="339.17" stroke="#222" stroke-opacity="1" stroke-width="1.0"/>
<line x1="267.07" y1="331.94" x2="251.48" y2="325.00" stroke="#222" stroke-opacity="1" stroke-width="1.0"/>
<line x1="273.15" y1="320.00" x2="258.37" y2="311.47" stroke="#222" stroke-opacity="1" stroke-width="1.0"/>
<line x1="280.45" y1="308.76" x2="266.64" y2="298.73" stroke="#222" stroke-opacity="1" stroke-width="1.0"/>
<line x1="288.88" y1="298.35" x2="276.19" y2="286.93" stroke="#222" stroke-opacity="1" stroke-width="1.0"/>
<line x1="298.35" y1="288.88" x2="286.93" y2="276.19" stroke="#222" stroke-opacity="1" stroke-width="1.0"/>
<line x1="308.76" y1="280.45" x2="298.73" y2="266.64" stroke="#222" stroke-opacity="1" stroke-width="1.0"/>
<line x1="320.00" y1="273.15" x2="311.47" y2="258.37" stroke="#222" stroke-opacity="1" stroke-width="1.0"/>
<line x1="331.94" y1="267.07" x2="325.00" y2="251.48" stroke="#222" stroke-opacity="1" stroke-width="1.0"/>
<line x1="344.45" y1="262.26" x2="339.17" y2="246.03" stroke="#222" stroke-opacity="1" stroke-width="1.0"/>
<line x1="357.39" y1="258.80" x2="353.84" y2="242.10" stroke="#222" stroke-opacity="1" stroke-width="1.0"/>
<line x1="370.62" y1="256.70" x2="369.65" y2="247.47" stroke="#222" stroke-opacity="1" stroke-width="1.0"/>
<circle cx="384.0" cy="384.0" r="127.80" fill="none" stroke="#222" stroke-width="1.1"/>
<rect x="381" y="247.47" width="6" height="8.23" fill="#f00"/>
<text x="369.80" y="230.60" font-size="12.8" textLength="28.4" lengthAdjust="spacingAndGlyphs" fill="#ff4040">0/60</text>
<text x="366.10" y="240.80" font-size="11.2" textLength="35.8" lengthAdjust="spacingAndGlyphs" fill="#ff4040">minute</text>
</g>
<g id="second">
<line x1="392.92" y1="299.13" x2="393.87" y2="290.13" stroke="#222" stroke-opacity="1" stroke-width="1.0"/>
<line x1="401.74" y1="300.53" x2="403.95" y2="290.13" stroke="#222" stroke-opacity="1" stroke-width="1.0"/>
<line x1="410.37" y1="302.84" x2="415.64" y2="286.61" stroke="#222" stroke-opacity="1" stroke-width="1.0"/>
<line x1="418.71" y1="306.04" x2="425.65" y2="290.45" stroke="#222" stroke-opacity="1" stroke-width="1.0"/>
<line x1="426.67" y1="310.10" x2="435.20" y2="295.32" stroke="#222" stroke-opacity="1" stroke-width="1.0"/>
<line x1="434.16" y1="314.96" x2="444.19" y2="301.16" stroke="#222" stroke-opacity="1" stroke-width="1.0"/>
<line x1="441.10" y1="320.58" x2="452.52" y2="307.90" stroke="#222" stroke-opacity="1" stroke-width="1.0"/>
<line x1="447.42" y1="326.90" x2="460.10" y2="315.48" stroke="#222" stroke-opacity="1" stroke-width="1.0"/>
<line x1="453.04" y1="333.84" x2="466.84" y2="323.81" stroke="#222" stroke-opacity="1" stroke-width="1.0"/>
<line x1="457.90" y1="341.33" x2="472.68" y2="332.80" stroke="#222" stroke-opacity="1" stroke-width="1.0"/>
<line x1="461.96" y1="349.29" x2="477.55" y2="342.35" stroke="#222" stroke-opacity="1" stroke-width="1.0"/>
<line x1="465.16" y1="357.63" x2="481.39" y2="352.36" stroke="#222" stroke-opacity="1" stroke-width="1.0"/>
<line x1="467.47" y1="366.26" x2="484.16" y2="362.71" stroke="#222" stroke-opacity="1" stroke-width="1.0"/>
<line x1="468.87" y1="375.08" x2="485.84" y2="373.30" stroke="#222" stroke-opacity="1" stroke-width="1.0"/>
<line x1="469.33" y1="384.00" x2="486.40" y2="384.00" stroke="#222" stroke-opacity="1" stroke-width="1.0"/>
<line x1="468.87" y1="392.92" x2="485.84" y2="394.70" stroke="#222" stroke-opacity="1" stroke-width="1.0"/>
<line x1="467.47" y1="401.74" x2="484.16" y2="405.29" stroke="#222" stroke-opacity="1" stroke-width="1.0"/>
<line x1="465.16" y1="410.37" x2="481.39" y2="415.64" stroke="#222" stroke-opacity="1" stroke-width="1.0"/>
<line x1="461.96" y1="418.71" x2="477.55" y2="425.65" stroke="#222" stroke-opacity="1" stroke-width="1.0"/>
<line x1="457.90" y1="426.67" x2="472.68" y2="435.20" stroke="#222" stroke-opacity="1" stroke-width="1.0"/>
<line x1="453.04" y1="434.16" x2="466.84" y2="444.19" stroke="#222" stroke-opacity="1" stroke-width="1.0"/>
<line x1="447.42" y1="441.10" x2="460.10" y2="452.52" stroke="#222" stroke-opacity="1" stroke-width="1.0"/>
<line x1="441.10" y1="447.42" x2="452.52" y2="460.10" stroke="#222" stroke-opacity="1" stroke-width="1.0"/>
<line x1="434.16" y1="453.04" x2="444.19" y2="466.84" stroke="#222" stroke-opacity="1" stroke-width="1.0"/>
<line x1="426.67" y1="457.90" x2="435.20" y2="472.68" stroke="#222" stroke-opacity="1" stroke-width="1.0"/>
<line x1="418.71" y1="461.96" x2="425.65" y2="477.55" stroke="#222" stroke-opacity="1" stroke-width="1.0"/>
<line x1="410.37" y1="465.16" x2="415.64" y2="481.39" stroke="#222" stroke-opacity="1" stroke-width="1.0"/>
<line x1="401.74" y1="467.47" x2="405.29" y2="484.16" stroke="#222" stroke-opacity="1" stroke-width="1.0"/>
<line x1="392.92" y1="468.87" x2="394.70" y2="485.84" stroke="#222" stroke-opacity="1" stroke-width="1.0"/>
<line x1="384.00" y1="469.33" x2="384.00" y2="486.40" stroke="#222" stroke-opacity="1" stroke-width="1.0"/>
<line x1="375.08" y1="468.87" x2="373.30" y2="485.84" stroke="#222" stroke-opacity="1" stroke-width="1.0"/>
<line x1="366.26" y1="467.47" x2="362.71" y2="484.16" stroke="#222" stroke-opacity="1" stroke-width="1.0"/>
<line x1="357.63" y1="465.16" x2="352.36" y2="481.39" stroke="#222" stroke-opacity="1" stroke-width="1.0"/>
<line x1="349.29" y1="461.96" x2="342.35" y2="477.55" stroke="#222" stroke-opacity="1" stroke-width="1.0"/>
<line x1="341.33" y1="457.90" x2="332.80" y2="472.68" stroke="#222" stroke-opacity="1" stroke-width="1.0"/>
<line x1="333.84" y1="453.04" x2="323.81" y2="466.84" stroke="#222" stroke-opacity="1" stroke-width="1.0"/>
<line x1="326.90" y1="447.42" x2="315.48" y2="460.10" stroke="#222" stroke-opacity="1" stroke-width="1.0"/>
<line x1="320.58" y1="441.10" x2="307.90" y2="452.52" stroke="#222" stroke-opacity="1" stroke-width="1.0"/>
<line x1="314.96" y1="434.16" x2="301.16" y2="444.19" stroke="#222" stroke-opacity="1" stroke-width="1.0"/>
<line x1="310.10" y1="426.67" x2="295.32" y2="435.20" stroke="#222" stroke-opacity="1" stroke-width="1.0"/>
<line x1="306.04" y1="418.71" x2="290.45" y2="425.65" stroke="#222" stroke-opacity="1" stroke-width="1.0"/>
<line x1="302.84" y1="410.37" x2="286.61" y2="415.64" stroke="#222" stroke-opacity="1" stroke-width="1.0"/>
<line x1="300.53" y1="401.74" x2="283.84" y2="405.29" stroke="#222" stroke-opacity="1" stroke-width="1.0"/>
<line x1="299.13" y1="392.92" x2="282.16" y2="394.70" stroke="#222" stroke-opacity="1" stroke-width="1.0"/>
<line x1="298.67" y1="384.00" x2="281.60" y2="384.00" stroke="#222" stroke-opacity="1" stroke-width="1.0"/>
<line x1="299.13" y1="375.08" x2="282.16" y2="373.30" stroke="#222" stroke-opacity="1" stroke-width="1.0"/>
<line x1="300.53" y1="366.26" x2="283.84" y2="362.71" stroke="#222" stroke-opacity="1" stroke-width="1.0"/>
<line x1="302.84" y1="357.63" x2="286.61" y2="352.36" stroke="#222" stroke-opacity="1" stroke-width="1.0"/>
<line x1="306.04" y1="349.29" x2="290.45" y2="342.35" stroke="#222" stroke-opacity="1" stroke-width="1.0"/>
<line x1="310.10" y1="341.33" x2="295.32" y2="332.80" stroke="#222" stroke-opacity="1" stroke-width="1.0"/>
<line x1="314.96" y1="333.84" x2="301.16" y2="323.81" stroke="#222" stroke-opacity="1" stroke-width="1.0"/>
<line x1="320.58" y1="326.90" x2="307.90" y2="315.48" stroke="#222" stroke-opacity="1" stroke-width="1.0"/>
<line x1="326.90" y1="320.58" x2="315.48" y2="307.90" stroke="#222" stroke-opacity="1" stroke-width="1.0"/>
<line x1="333.84" y1="314.96" x2="323.81" y2="301.16" stroke="#222" stroke-opacity="1" stroke-width="1.0"/>
<line x1="341.33" y1="310.10" x2="332.80" y2="295.32" stroke="#222" stroke-opacity="1" stroke-width="1.0"/>
<line x1="349.29" y1="306.04" x2="342.35" y2="290.45" stroke="#222" stroke-opacity="1" stroke-width="1.0"/>
<line x1="357.63" y1="302.84" x2="352.36" y2="286.61" stroke="#222" stroke-opacity="1" stroke-width="1.0"/>
<line x1="366.26" y1="300.53" x2="364.05" y2="290.13" stroke="#222" stroke-opacity="1" stroke-width="1.0"/>
<line x1="375.08" y1="299.13" x2="374.13" y2="290.13" stroke="#222" stroke-opacity="1" stroke-width="1.0"/>
<circle cx="384.0" cy="384.0" r="85.13" fill="none" stroke="#222" stroke-width="1.1"/>
<rect x="381" y="290.13" width="6" height="8.23" fill="#f00"/>
<text x="369.80" y="273.27" font-size="12.8" textLength="28.4" lengthAdjust="spacingAndGlyphs" fill="#ff4040">0/60</text>
<text x="365.55" y="283.47" font-size="11.2" textLength="36.9" lengthAdjust="spacingAndGlyphs" fill="#ff4040">second</text>
</g>
<text x="327.5" y="383.9" font-size="13.3" font-weight="bold" textLength="113" lengthAdjust="spacingAndGlyphs" fill="#111">2022.09.30_22:00</text>
</svg></div></body></html>
